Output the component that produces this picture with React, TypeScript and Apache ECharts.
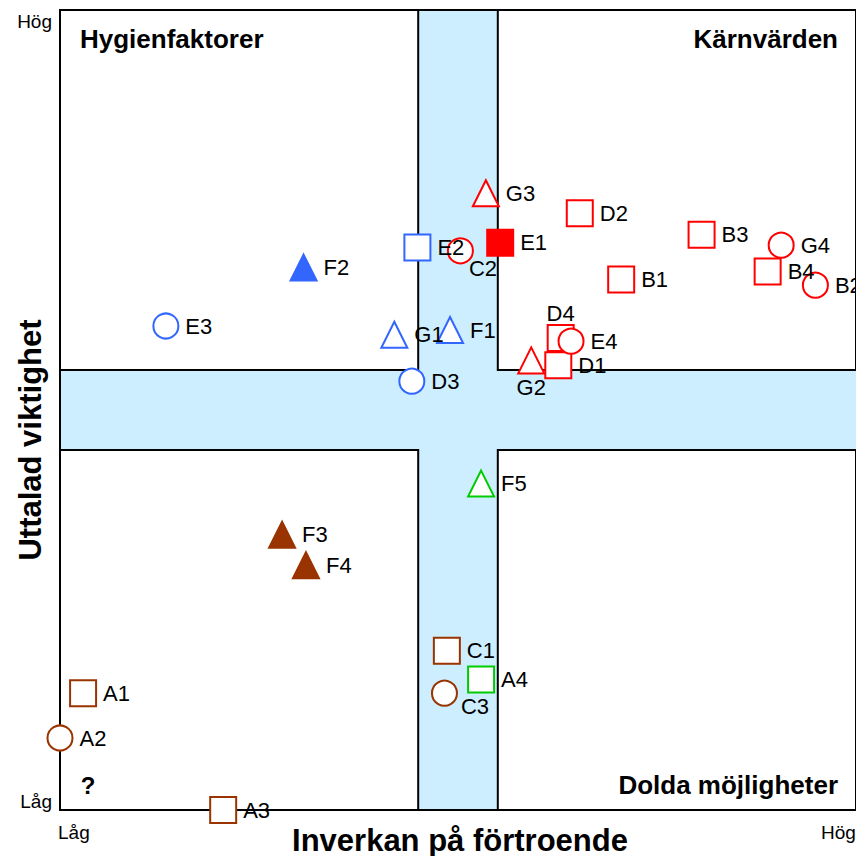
import React, { useEffect, useRef } from "react";
import * as echarts from "echarts";

// ---- Data (values in chart units, 0..10 on both axes) ----
const labels = ["G3", "E2", "C2", "E1", "G1", "F1", "D3", "G2", "D1", "D4", "E4", "D2", "B1", "B3", "G4", "B4", "B2", "F2", "E3", "F3", "F4", "F5", "C1", "A4", "C3", "A1", "A2", "A3"];
const xVals = [5.35, 4.49, 5.03, 5.53, 4.2, 4.9, 4.42, 5.92, 6.26, 6.29, 6.42, 6.53, 7.05, 8.06, 9.06, 8.89, 9.49, 3.06, 1.33, 2.79, 3.09, 5.29, 4.86, 5.29, 4.83, 0.29, 0.0, 2.05];
const yVals = [7.71, 7.03, 6.99, 7.09, 5.94, 6.0, 5.36, 5.62, 5.56, 5.9, 5.86, 7.46, 6.63, 7.19, 7.06, 6.73, 6.56, 6.78, 6.05, 3.44, 3.06, 4.08, 1.99, 1.63, 1.46, 1.46, 0.9, 0.0];
const shapes = ["triangle", "square", "circle", "square", "triangle", "triangle", "circle", "triangle", "square", "square", "circle", "square", "square", "square", "circle", "square", "circle", "triangle", "circle", "triangle", "triangle", "triangle", "square", "square", "circle", "square", "circle", "square"];
const groups = ["red", "blue", "red", "red", "blue", "blue", "blue", "red", "red", "red", "red", "red", "red", "red", "red", "red", "red", "blue", "blue", "brown", "brown", "green", "brown", "green", "brown", "brown", "brown", "brown"];
const filled = [false, false, false, true, false, false, false, false, false, false, false, false, false, false, false, false, false, true, false, true, true, false, false, false, false, false, false, false];

const axisMin = 0;
const axisMax = 10;
const bandLow = 4.5;
const bandHigh = 5.5;

const quadrantTitles = ["Hygienfaktorer", "Kärnvärden", "Dolda möjligheter", "?"];
const xAxisTitle = "Inverkan på förtroende";
const yAxisTitle = "Uttalad viktighet";
const lowLabel = "Låg";
const highLabel = "Hög";

// ---- Styles ----
const FONT = 'Arial, "Liberation Sans", Helvetica, sans-serif';
const palette: Record<string, string> = {
  red: "#ff0000",
  blue: "#3366ff",
  brown: "#993300",
  green: "#00cc00",
};
const symbolMap: Record<string, string> = { square: "rect", circle: "circle", triangle: "triangle" };
const sizeMap: Record<string, number> = { square: 26, circle: 25, triangle: 26 };
const labelTweaks: Record<string, any> = {
  C2: { offset: [-11, 18] },
  D4: { position: "top", distance: 0 },
  G2: { position: "bottom", distance: 2 },
  C3: { offset: [-3, 13] },
};

export default function App() {
  const ref = useRef<HTMLDivElement>(null);

  useEffect(() => {
    if (!ref.current) return;
    const chart = echarts.init(ref.current, undefined, { renderer: "svg" });

    const points = labels.map((name, i) => {
      const color = palette[groups[i]];
      return {
        name,
        value: [xVals[i], yVals[i]],
        symbol: symbolMap[shapes[i]],
        symbolSize: sizeMap[shapes[i]],
        itemStyle: {
          color: filled[i] ? color : "#ffffff",
          borderColor: color,
          borderWidth: 2,
          opacity: 1,
        },
        label: {
          show: true,
          position: "right",
          distance: 6,
          ...(labelTweaks[name] || {}),
        },
      };
    });

    const bandStyle = { color: "#cceeff", borderWidth: 0, opacity: 1 };
    const quadStyle = { color: "rgba(0,0,0,0)", borderColor: "#000", borderWidth: 2, opacity: 1 };

    const axisLine = { show: true, lineStyle: { color: "#000", width: 2 } };
    const baseAxis = {
      type: "value",
      min: axisMin,
      max: axisMax,
      axisLine,
      axisTick: { show: false },
      axisLabel: { show: false },
      splitLine: { show: false },
      z: 3,
    };

    chart.setOption({
      animation: false,
      backgroundColor: "#ffffff",
      grid: { left: 60, top: 10, width: 800, height: 800 },
      xAxis: [
        { ...baseAxis, position: "bottom" },
        { ...baseAxis, position: "top" },
      ],
      yAxis: [{ ...baseAxis, position: "left" }],
      series: [
        {
          type: "scatter",
          data: [],
          z: 1,
          silent: true,
          markArea: {
            silent: true,
            label: { show: false },
            data: [
              [{ xAxis: bandLow, yAxis: axisMin, itemStyle: bandStyle }, { xAxis: bandHigh, yAxis: axisMax }],
              [{ xAxis: axisMin, yAxis: bandLow, itemStyle: bandStyle }, { xAxis: axisMax, yAxis: bandHigh }],
              [{ xAxis: axisMin, yAxis: bandHigh, itemStyle: quadStyle }, { xAxis: bandLow, yAxis: axisMax }],
              [{ xAxis: bandHigh, yAxis: bandHigh, itemStyle: quadStyle }, { xAxis: axisMax, yAxis: axisMax }],
              [{ xAxis: axisMin, yAxis: axisMin, itemStyle: quadStyle }, { xAxis: bandLow, yAxis: bandLow }],
              [{ xAxis: bandHigh, yAxis: axisMin, itemStyle: quadStyle }, { xAxis: axisMax, yAxis: bandLow }],
            ],
          },
        },
        {
          type: "scatter",
          z: 5,
          data: points,
          itemStyle: { opacity: 1 },
          emphasis: { disabled: true },
          label: {
            show: true,
            formatter: "{b}",
            color: "#000",
            fontSize: 22,
            fontFamily: FONT,
          },
        },
      ],
      graphic: [
        { type: "text", x: 80, y: 39, style: { text: quadrantTitles[0], font: `bold 26px ${FONT}`, fill: "#000", textAlign: "left", textVerticalAlign: "middle" } },
        { type: "text", x: 838, y: 39, style: { text: quadrantTitles[1], font: `bold 26px ${FONT}`, fill: "#000", textAlign: "right", textVerticalAlign: "middle" } },
        { type: "text", x: 838, y: 785, style: { text: quadrantTitles[2], font: `bold 26px ${FONT}`, fill: "#000", textAlign: "right", textVerticalAlign: "middle" } },
        { type: "text", x: 88, y: 785, style: { text: quadrantTitles[3], font: `bold 24px ${FONT}`, fill: "#000", textAlign: "center", textVerticalAlign: "middle" } },
        { type: "text", x: 52, y: 21, style: { text: highLabel, font: `19px ${FONT}`, fill: "#000", textAlign: "right", textVerticalAlign: "middle" } },
        { type: "text", x: 52, y: 801, style: { text: lowLabel, font: `19px ${FONT}`, fill: "#000", textAlign: "right", textVerticalAlign: "middle" } },
        { type: "text", x: 58, y: 832, style: { text: lowLabel, font: `19px ${FONT}`, fill: "#000", textAlign: "left", textVerticalAlign: "middle" } },
        { type: "text", x: 821, y: 832, style: { text: highLabel, font: `19px ${FONT}`, fill: "#000", textAlign: "left", textVerticalAlign: "middle" } },
        { type: "text", x: 460, y: 840, style: { text: xAxisTitle, font: `bold 31px ${FONT}`, fill: "#000", textAlign: "center", textVerticalAlign: "middle" } },
        { type: "text", x: 30, y: 440, rotation: Math.PI / 2, style: { text: yAxisTitle, font: `bold 31px ${FONT}`, fill: "#000", textAlign: "center", textVerticalAlign: "middle" } },
      ],
    });

    return () => chart.dispose();
  }, []);

  return <div ref={ref} style={{ position: "fixed", left: 0, top: 0, width: 856, height: 856 }} />;
}
